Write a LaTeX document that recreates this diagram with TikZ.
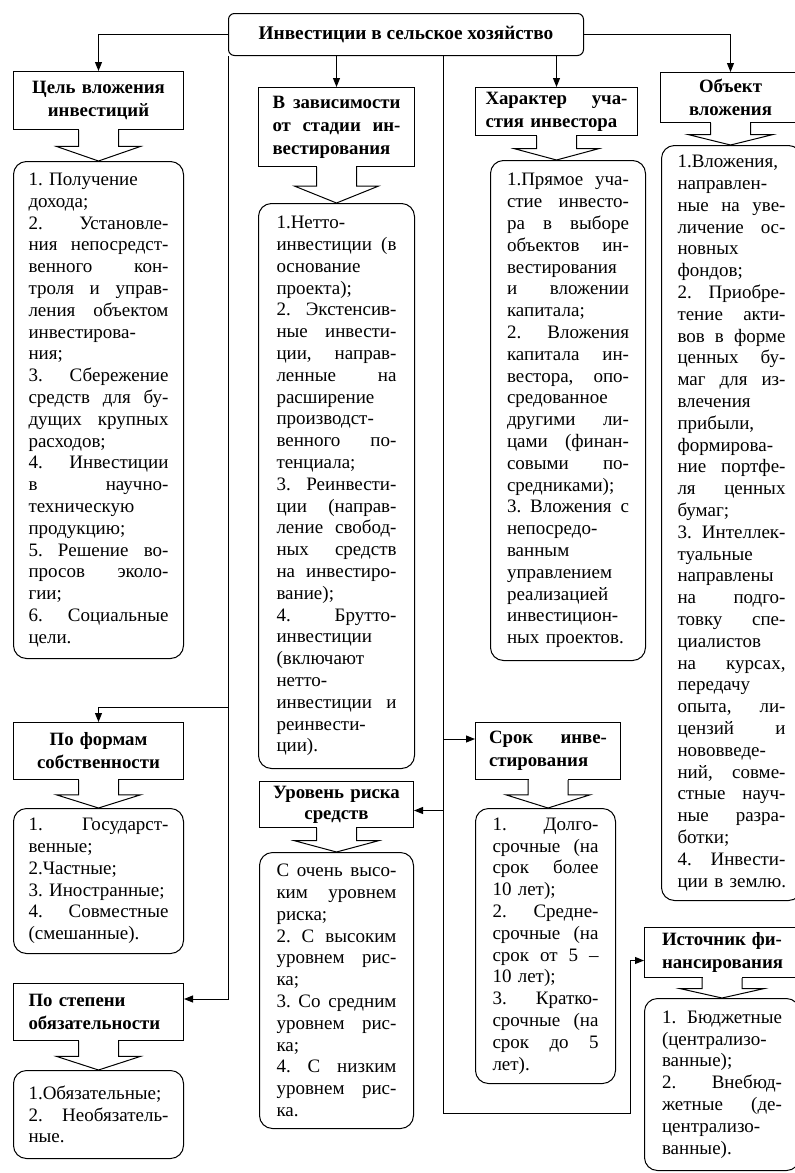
\documentclass[tikz,border=0pt]{standalone}
\usepackage{fontspec}
\setmainfont{Liberation Serif}
\usetikzlibrary{arrows.meta,calc}

\newcommand{\jl}[1]{\leavevmode\hbox to \hsize{\spaceskip=0pt\xspaceskip=0pt #1}}
\newcommand{\fatarrow}[2]{%
  \path (#1.south) coordinate (faTop)
        (#1.south |- #2.north) coordinate (faTip)
        ($(faTop)!.53!(faTip)$) coordinate (faMid);
  \fill[white] ([xshift=-19.5pt,yshift=1pt]faTop) rectangle ([xshift=19.5pt]faMid);
  \draw ([xshift=-20pt]faTop) -- ([xshift=-20pt]faMid) -- ([xshift=-42pt]faMid)
    -- (faTip) -- ([xshift=42pt]faMid) -- ([xshift=20pt]faMid) -- ([xshift=20pt]faTop);
}

\begin{document}
\begin{tikzpicture}[x=1pt, y=-1pt, line width=1pt, >={Triangle[length=9pt,width=7pt]},
    root/.style={draw, rounded corners=6pt, inner sep=0pt, anchor=north west,
      font=\bfseries\fontsize{19.3}{22}\selectfont},
    head/.style={draw, fill=white, align=center, inner sep=0pt, anchor=north west,
      font=\bfseries\fontsize{18.8}{23}\selectfont\frenchspacing},
    body/.style={draw, rounded corners=13pt, align=left, inner sep=0pt, anchor=north west,
      font=\fontsize{19}{21.8}\selectfont\frenchspacing}]
  \useasboundingbox (0,0) rectangle (795,1173);

  \node[root, minimum width=355pt, minimum height=42pt] (root) at (228,13)
    {Инвестиции в сельское хозяйство};

  % headings
  \node[head, minimum width=170pt, minimum height=58pt, text width=140pt] (goal) at (13,71)
    {Цель вложения\\инвестиций};
  \node[head, minimum width=156pt, minimum height=79pt, text width=128pt, align=left] (stage) at (258,87)
    {\jl{В зависимости}\\\jl{от стадии ин-}\\вестирования};
  \node[head, minimum width=162pt, minimum height=48pt, text width=142pt, align=left] (role) at (475,87)
    {\jl{Характер уча-}\\стия инвестора};
  \node[head, minimum width=140pt, minimum height=50pt, text width=120pt] (object) at (660,72)
    {Объект\\вложения};
  \node[head, minimum width=170pt, minimum height=57pt, text width=140pt] (owner) at (13,722)
    {По формам\\собственности};
  \node[head, minimum width=170pt, minimum height=57pt, text width=140pt, align=left] (duty) at (13,983)
    {По степени\\обязательности};
  \node[head, minimum width=154pt, minimum height=46pt, text width=140pt,
    font=\bfseries\fontsize{18.8}{21}\selectfont] (risk) at (259,781)
    {Уровень риска\\средств};
  \node[head, minimum width=145pt, minimum height=57pt, text width=118pt, align=left] (term) at (475,722)
    {\jl{Срок инве-}\\стирования};
  \node[head, minimum width=155pt, minimum height=50pt, text width=120pt, align=left] (source) at (644,927)
    {\jl{Источник фи-}\\нансирования};

  % lists
  \node[body, minimum width=170pt, minimum height=497pt, text width=140pt] (goalList) at (13,161)
    {1. Получение\\дохода;\\\jl{2.  Установле-}\\\jl{ния непосредст-}\\\jl{венного кон-}\\
     \jl{троля и управ-}\\\jl{ления объектом}\\инвестирова-\\ния;\\\jl{3. Сбережение}\\
     \jl{средств для бу-}\\\jl{дущих крупных}\\расходов;\\\jl{4. Инвестиции}\\\jl{в научно-}\\
     техническую\\продукцию;\\\jl{5. Решение во-}\\\jl{просов эколо-}\\гии;\\\jl{6. Социальные}\\цели.};
  \node[body, minimum width=156pt, minimum height=565pt, text width=120pt] (stageList) at (258,203)
    {1.Нетто-\\\jl{инвестиции (в}\\основание\\проекта);\\\jl{2. Экстенсив-}\\\jl{ные инвести-}\\
     \jl{ции, направ-}\\\jl{ленные на}\\расширение\\производст-\\\jl{венного по-}\\тенциала;\\
     \jl{3. Реинвести-}\\\jl{ции (направ-}\\\jl{ление свобод-}\\\jl{ных средств}\\\jl{на инвестиро-}\\
     вание);\\\jl{4. Брутто-}\\инвестиции\\(включают\\нетто-\\\jl{инвестиции и}\\реинвести-\\ции).};
  \node[body, minimum width=155pt, minimum height=500pt, text width=122pt] (roleList) at (490,160)
    {\jl{1.Прямое уча-}\\\jl{стие инвесто-}\\\jl{ра в выборе}\\\jl{объектов ин-}\\вестирования\\
     \jl{и вложении}\\капитала;\\\jl{2. Вложения}\\\jl{капитала ин-}\\\jl{вестора, опо-}\\средованное\\
     \jl{другими ли-}\\\jl{цами (финан-}\\\jl{совыми по-}\\средниками);\\\jl{3. Вложения с}\\
     непосредо-\\ванным\\управлением\\реализацией\\инвестицион-\\\mbox{ных проектов.}};
  \node[body, minimum width=140pt, minimum height=755pt, text width=108pt] (objectList) at (661,145)
    {1.Вложения,\\направлен-\\\jl{ные на уве-}\\\jl{личение ос-}\\новных\\фондов;\\
     \jl{2. Приобре-}\\\jl{тение акти-}\\\jl{вов в форме}\\\jl{ценных бу-}\\\jl{маг для из-}\\
     влечения\\прибыли,\\формирова-\\\jl{ние портфе-}\\\jl{ля ценных}\\бумаг;\\\jl{3. Интеллек-}\\
     туальные\\направлены\\\jl{на подго-}\\\jl{товку спе-}\\циалистов\\\jl{на курсах,}\\передачу\\
     \jl{опыта, ли-}\\\jl{цензий и}\\нововведе-\\\jl{ний, совме-}\\\jl{стные науч-}\\\jl{ные разра-}\\
     ботки;\\\jl{4. Инвести-}\\\mbox{ции в землю.}};
  \node[body, minimum width=170pt, minimum height=145pt, text width=140pt] (ownerList) at (13,808)
    {\jl{1. Государст-}\\венные;\\2.Частные;\\\mbox{3. Иностранные;}\\\jl{4. Совместные}\\(смешанные).};
  \node[body, minimum width=170pt, minimum height=88pt, text width=140pt] (dutyList) at (13,1070)
    {1.Обязательные;\\\jl{2. Необязатель-}\\ные.};
  \node[body, minimum width=154pt, minimum height=276pt, text width=120pt] (riskList) at (259,852)
    {\jl{С очень высо-}\\\jl{ким уровнем}\\риска;\\\jl{2. С высоким}\\\jl{уровнем рис-}\\ка;\\
     \jl{3. Со средним}\\\jl{уровнем рис-}\\ка;\\\jl{4. С низким}\\\jl{уровнем рис-}\\ка.};
  \node[body, minimum width=140pt, minimum height=275pt, text width=106pt] (termList) at (475,808)
    {\jl{1. Долго-}\\\jl{срочные (на}\\\jl{срок более}\\10 лет);\\\jl{2. Средне-}\\\jl{срочные (на}\\
     \jl{срок от 5 –}\\10 лет);\\\jl{3. Кратко-}\\\jl{срочные (на}\\\jl{срок до 5}\\лет).};
  \node[body, minimum width=155pt, minimum height=172pt, text width=120pt] (sourceList) at (644,998)
    {\jl{1. Бюджетные}\\(централизо-\\ванные);\\\jl{2. Внебюд-}\\\jl{жетные (де-}\\централизо-\\ванные).};

  \foreach \hh/\ll in {goal/goalList, stage/stageList, role/roleList, object/objectList,
      owner/ownerList, duty/dutyList, risk/riskList, term/termList, source/sourceList}
    \fatarrow{\hh}{\ll};

  % connectors
  \draw[->] (root.west) -| (goal.north);
  \draw[->] (root.east) -| (object.north);
  \draw[->] (root.south -| stage.north) -- (stage.north);
  \draw[->] (root.south -| role.north) -- (role.north);

  \coordinate (spineL) at (root.south west);
  \coordinate (toOwner) at ([yshift=15pt]owner.north);
  \coordinate (toDuty) at ([yshift=13pt]duty.east);
  \draw[->] (spineL) |- (toDuty);
  \draw[->] (spineL |- toOwner) -- (toOwner) -- (owner.north);

  \coordinate (spineR) at ($(root.south west)!.606!(root.south east)$);
  \coordinate (toTerm) at ([yshift=12pt]term.west);
  \coordinate (toRisk) at ([yshift=-6pt]risk.east);
  \coordinate (toSource) at ([yshift=-8pt]source.west);
  \coordinate (bend) at (630,1113);
  \draw[->] (spineR) |- (bend) |- (toSource);
  \draw[->] (spineR |- toTerm) -- (toTerm);
  \draw[->] (spineR |- toRisk) -- (toRisk);
\end{tikzpicture}
\end{document}
